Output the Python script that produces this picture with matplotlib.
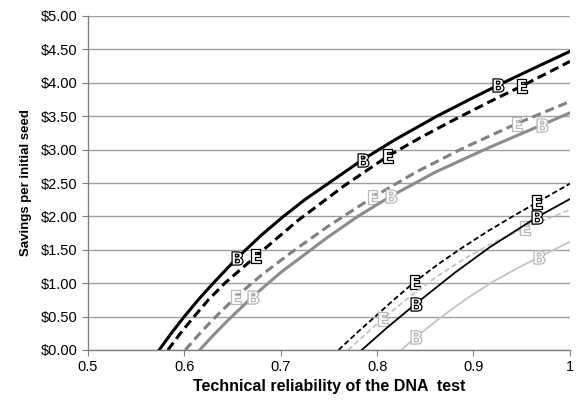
import matplotlib
matplotlib.use("Agg")
import matplotlib.pyplot as plt
from matplotlib.ticker import FuncFormatter

plt.rcParams['font.family'] = ['Liberation Sans', 'DejaVu Sans']

# thick curves
b_high_x = [0.574, 0.587, 0.600, 0.615, 0.630, 0.655, 0.680, 0.702, 0.725,
            0.750, 0.785, 0.820, 0.862, 0.900, 0.925, 0.960, 1.000]
b_high_y = [0.00, 0.26, 0.50, 0.76, 1.00, 1.38, 1.72, 1.99, 2.25,
            2.50, 2.85, 3.16, 3.50, 3.78, 3.96, 4.20, 4.47]
e_high_x = [0.583, 0.596, 0.609, 0.625, 0.642, 0.674, 0.700, 0.718, 0.742,
            0.765, 0.811, 0.845, 0.879, 0.920, 0.950, 1.000]
e_high_y = [0.00, 0.25, 0.48, 0.75, 1.00, 1.40, 1.72, 1.94, 2.20,
            2.45, 2.90, 3.18, 3.44, 3.74, 3.95, 4.32]
e_gray_x = [0.601, 0.615, 0.630, 0.654, 0.680, 0.710, 0.748, 0.796, 0.840,
            0.889, 0.945, 1.000]
e_gray_y = [0.00, 0.23, 0.46, 0.80, 1.12, 1.45, 1.84, 2.29, 2.66,
            3.02, 3.39, 3.72]
b_gray_x = [0.616, 0.630, 0.645, 0.671, 0.700, 0.748, 0.780, 0.814, 0.860,
            0.916, 0.971, 1.000]
b_gray_y = [0.00, 0.22, 0.44, 0.80, 1.16, 1.68, 2.00, 2.30, 2.66,
            3.03, 3.37, 3.55]

# thin curves
e_low_x = [0.760, 0.780, 0.798, 0.818, 0.839, 0.862, 0.886, 0.915, 0.943, 0.966, 1.000]
e_low_y = [0.00, 0.27, 0.50, 0.76, 1.02, 1.27, 1.51, 1.78, 2.02, 2.21, 2.49]
e_light_x = [0.770, 0.806, 0.834, 0.860, 0.890, 0.917, 0.953, 0.976, 1.000]
e_light_y = [0.00, 0.47, 0.80, 1.08, 1.36, 1.58, 1.83, 1.96, 2.10]
b_low_x = [0.784, 0.810, 0.840, 0.880, 0.917, 0.966, 1.000]
b_low_y = [0.00, 0.33, 0.69, 1.15, 1.54, 1.99, 2.26]
b_light_x = [0.825, 0.840, 0.867, 0.895, 0.920, 0.945, 0.968, 1.000]
b_light_y = [0.00, 0.19, 0.50, 0.79, 1.02, 1.22, 1.39, 1.62]

x_ticks = [0.5, 0.6, 0.7, 0.8, 0.9, 1.0]
x_tick_labels = ["0.5", "0.6", "0.7", "0.8", "0.9", "1"]
y_ticks = [0.0, 0.5, 1.0, 1.5, 2.0, 2.5, 3.0, 3.5, 4.0, 4.5, 5.0]

fig = plt.figure(figsize=(5.78, 4.0), dpi=100)
ax = fig.add_axes([0.152, 0.125, 0.834, 0.835])

B = r'$\mathbf{B}$'
E = r'$\mathbf{E}$'
mk = dict(markerfacecolor='white', markersize=9.5, markeredgewidth=0.9)
dash = (0, (3, 1.6))

ax.plot(b_high_x, b_high_y, color='black', lw=2.2, ls='-', marker=B,
        markevery=[5, 10, 14], markeredgecolor='black', **mk)
ax.plot(e_high_x, e_high_y, color='black', lw=2.2, ls=dash, marker=E,
        markevery=[5, 10, 14], markeredgecolor='black', **mk)
ax.plot(e_gray_x, e_gray_y, color='#808080', lw=2.2, ls=dash, marker=E,
        markevery=[3, 7, 10], markeredgecolor='#b8b8b8', **mk)
ax.plot(b_gray_x, b_gray_y, color='#8c8c8c', lw=2.2, ls='-', marker=B,
        markevery=[3, 7, 10], markeredgecolor='#b8b8b8', **mk)

ax.plot(e_low_x, e_low_y, color='black', lw=1.3, ls=dash, marker=E,
        markevery=[4, 9], markeredgecolor='black', **mk)
ax.plot(e_light_x, e_light_y, color='#c4c4c4', lw=1.3, ls=dash, marker=E,
        markevery=[1, 6], markeredgecolor='#b8b8b8', **mk)
ax.plot(b_low_x, b_low_y, color='black', lw=1.3, ls='-', marker=B,
        markevery=[2, 5], markeredgecolor='black', **mk)
ax.plot(b_light_x, b_light_y, color='#c4c4c4', lw=1.3, ls='-', marker=B,
        markevery=[1, 6], markeredgecolor='#b8b8b8', **mk)

ax.set_xlim(0.5, 1.0)
ax.set_ylim(0, 5)
ax.set_xticks(x_ticks)
ax.set_xticklabels(x_tick_labels)
ax.set_yticks(y_ticks)
ax.yaxis.set_major_formatter(FuncFormatter(lambda v, p: f"${v:.2f}"))
ax.yaxis.grid(True, color='#a0a0a0', lw=1)
ax.set_axisbelow(True)

for s in ['top', 'right']:
    ax.spines[s].set_visible(False)
for s in ['left', 'bottom']:
    ax.spines[s].set_color('#808080')
    ax.spines[s].set_linewidth(1)
ax.tick_params(axis='both', direction='out', length=4, color='#808080',
               labelsize=10.5, labelcolor='black')

ax.set_xlabel("Technical reliability of the DNA  test", fontsize=11.5,
              fontweight='bold', labelpad=3)
ax.set_ylabel("Savings per initial seed", fontsize=9.5, fontweight='bold',
              labelpad=6)

fig.savefig("out.png", dpi=100)
